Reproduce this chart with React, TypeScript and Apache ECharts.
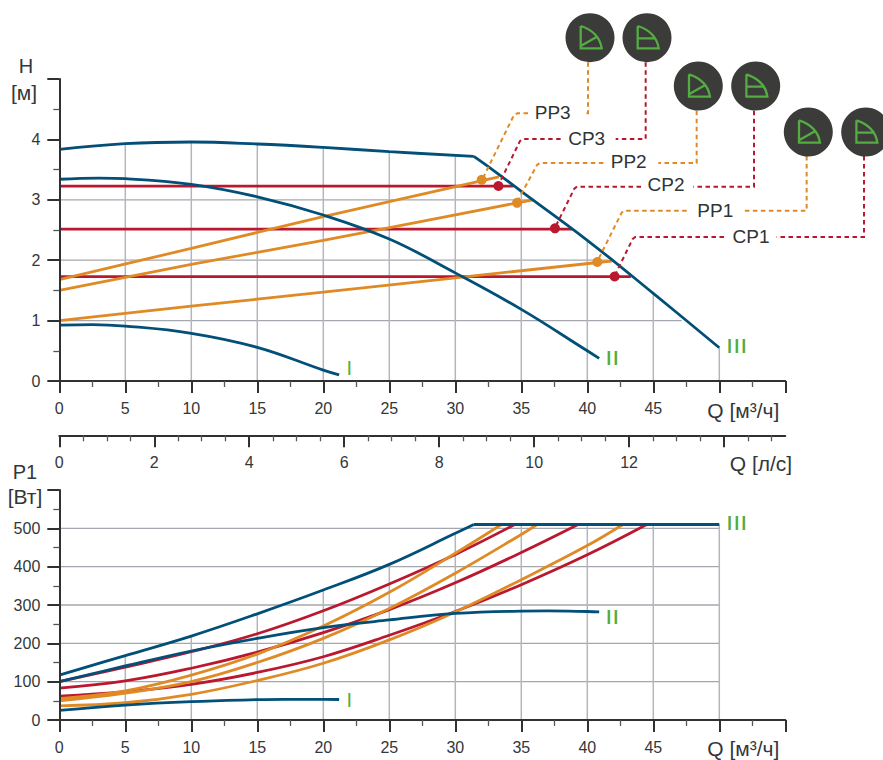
import React, { useEffect, useRef } from "react";
import * as echarts from "echarts";

const FONT = '"Liberation Sans", Arial, sans-serif';
const BLUE = "#024f78";
const RED = "#b9182f";
const ORANGE = "#e08a26";
const GREEN = "#53ad40";
const INK = "#33373a";

// Q tick labels
const qTicks = [0, 5, 10, 15, 20, 25, 30, 35, 40, 45];
const lsMajor = [0, 2, 4, 6, 8, 10, 12, 14];
const lsMinor = [0.5, 1, 1.5, 2.5, 3, 3.5, 4.5, 5, 5.5, 6.5, 7, 7.5, 8.5, 9, 9.5, 10.5, 11, 11.5, 12.5, 13, 13.5, 14.5, 15];
const lsLabels = [0, 2, 4, 6, 8, 10, 12];

// H(Q) curves
const hI = [[0, 0.925], [2.5, 0.935], [5, 0.91], [10, 0.79], [15, 0.557], [20, 0.18], [21.2, 0.1]];
const hII = [[0, 3.34], [3, 3.36], [5, 3.35], [10, 3.256], [15, 3.05], [20, 2.748], [25, 2.35], [30, 1.79], [35, 1.186], [40, 0.5], [40.9, 0.375]];
const hIIIa = [[0, 3.835], [5, 3.93], [10, 3.957], [15, 3.924], [20, 3.868], [25, 3.797], [31.4, 3.72]];
const hIIIb = [[31.4, 3.72], [32.5, 3.55], [35, 3.14], [40, 2.33], [45, 1.45], [50, 0.55]];
const hCP3 = [[0, 3.228], [34.4, 3.228]];
const hCP2 = [[0, 2.516], [38.9, 2.516]];
const hCP1 = [[0, 1.727], [43.3, 1.727]];
const hPP3 = [[0, 1.678], [10, 2.196], [20, 2.72], [33.3, 3.38]];
const hPP2 = [[0, 1.5], [10, 1.93], [20, 2.33], [35.9, 3.0]];
const hPP1 = [[0, 1.0], [10, 1.24], [20, 1.47], [28.8, 1.68], [41.85, 1.987]];
const pointsPP = [[32, 3.33], [34.68, 2.95], [40.76, 1.97]];
const pointsCP = [[33.27, 3.228], [37.55, 2.528], [42.07, 1.73]];

// H grid: [level, where it stops]
const hGridH = [[1, 47.15], [2, 41.6], [3, 36]];
const hGridV = [[5, 3.93], [10, 3.95], [15, 3.92], [20, 3.87], [25, 3.8], [30, 3.73], [35, 3.14], [40, 2.33], [45, 1.45], [50, 0.55]];

// P1(Q) curves
const pI = [[0, 25], [5, 39], [10, 48], [15, 53], [17, 54], [20, 54], [21.2, 53.5]];
const pII = [[0, 100], [5, 141], [10, 180], [15, 213], [20, 241], [25, 261], [30, 278], [35, 284], [37, 284.5], [40, 283], [40.9, 282]];
const pIIIa = [[0, 117], [5, 168], [10, 219], [15, 277], [20, 339], [25, 406], [30, 487], [31.4, 510]];
const pIIIb = [[31.4, 510], [50, 510]];
const pCP3 = [[0, 100], [5, 138], [10, 178], [15, 225], [20, 285], [25, 355], [30, 432], [34.5, 510]];
const pCP2 = [[0, 83], [5, 102], [10, 135], [15, 177], [20, 228], [25, 288], [30, 358], [35, 437], [39.3, 510]];
const pCP1 = [[0, 62], [5, 74], [10, 93], [15, 124], [20, 165], [25, 221], [30, 283], [35, 353], [40, 431], [44.5, 510]];
const pPP3 = [[0, 56], [5, 76], [10, 117], [15, 172], [20, 245], [25, 333], [30, 435], [33.5, 510]];
const pPP2 = [[0, 50], [5, 70], [10, 100], [15, 150], [20, 213], [25, 291], [30, 383], [35, 484], [36.2, 510]];
const pPP1 = [[0, 37], [5, 45], [10, 67], [15, 103], [20, 148], [25, 209], [30, 282], [35, 366], [40, 455], [42.7, 510]];

const pGridH = [100, 200, 300, 400, 500];
const pGridV = [[5, 166], [10, 218], [15, 276], [20, 338], [25, 405], [30, 487], [35, 510], [40, 510], [45, 510], [50, 510]];

const leaderLabels = ["PP3", "CP3", "PP2", "CP2", "PP1", "CP1"];

const AXIS = { lineStyle: { color: "#2f3133", width: 2 } };
const axisLabel = { color: INK, fontFamily: FONT, fontSize: 16 };
const lineS = (name: string, data: number[][], color: string, width: number, idx: number, z: number, smooth: number | boolean) => ({
  name, type: "line", data, xAxisIndex: idx, yAxisIndex: idx, showSymbol: false, symbol: "none", smooth,
  lineStyle: { color, width }, z, silent: true, animation: false,
});

const PP_D = "M-9.3 -11.7 L-9.3 10.7 L11.7 10.7 C 10 -1 2 -8 -9.3 -11.7 M-9.3 8.3 L7 -1";
const CP_D = "M-9.3 -11.7 L-9.3 10.7 L11.7 10.7 C 10 -1 2 -8 -9.3 -11.7 M-9.3 0.7 L8.7 0.7";
echarts.graphic.registerShape("ppIcon", echarts.graphic.extendPath(PP_D, {}));
echarts.graphic.registerShape("cpIcon", echarts.graphic.extendPath(CP_D, {}));

export default function App() {
  const ref = useRef<HTMLDivElement>(null);
  useEffect(() => {
    const chart = echarts.init(ref.current!, undefined, { renderer: "svg" });

    const gridColorV = "#b3b6bd";
    const gridColorH = "#a4a7ad";
    const series: any[] = [];
    hGridH.forEach(([v, e]) => series.push(lineS("g", [[0, v], [e, v]], gridColorH, 1.3, 0, 1, false)));
    hGridV.forEach(([q, v]) => series.push(lineS("g", [[q, 0], [q, v]], gridColorV, 1.5, 0, 1, false)));
    pGridH.forEach((v) => series.push(lineS("g", [[0, v], [50, v]], gridColorH, 1.3, 2, 1, false)));
    pGridV.forEach(([q, v]) => series.push(lineS("g", [[q, 0], [q, v]], gridColorV, 1.5, 2, 1, false)));

    const W = 2.8;
    [hCP3, hCP2, hCP1].forEach((d) => series.push(lineS("CP", d, RED, W, 0, 3, false)));
    [hPP3, hPP2, hPP1].forEach((d) => series.push(lineS("PP", d, ORANGE, W, 0, 3, 0.3)));
    [hI, hII, hIIIa, hIIIb].forEach((d) => series.push(lineS("curve", d, BLUE, W, 0, 4, 0.4)));
    [pCP3, pCP2, pCP1].forEach((d) => series.push(lineS("CP", d, RED, W, 2, 3, 0.4)));
    [pPP3, pPP2, pPP1].forEach((d) => series.push(lineS("PP", d, ORANGE, W, 2, 3, 0.4)));
    [pI, pII, pIIIa, pIIIb].forEach((d) => series.push(lineS("curve", d, BLUE, W, 2, 4, 0.4)));
    series.push({ type: "scatter", data: pointsPP, xAxisIndex: 0, yAxisIndex: 0, symbolSize: 10, itemStyle: { color: ORANGE, opacity: 1 }, z: 7, silent: true });
    series.push({ type: "scatter", data: pointsCP, xAxisIndex: 0, yAxisIndex: 0, symbolSize: 10, itemStyle: { color: RED, opacity: 1 }, z: 7, silent: true });

    const qAxis = (gridIndex: number) => ({
      type: "value", gridIndex, min: 0, max: 55, interval: 5, position: "bottom", z: 5,
      axisLine: { show: true, onZero: false, ...AXIS },
      axisTick: { show: true, length: 12, lineStyle: { color: "#2f3133", width: 2 } },
      minorTick: { show: true, splitNumber: 2, length: 6, lineStyle: { color: "#55585b", width: 1.3 } },
      splitLine: { show: false }, minorSplitLine: { show: false },
      axisLabel: { ...axisLabel, margin: 19, customValues: qTicks },
    });
    const valAxis = (gridIndex: number, max: number, interval: number) => ({
      type: "value", gridIndex, min: 0, max, interval, z: 5,
      axisLine: { show: true, onZero: false, ...AXIS },
      axisTick: { show: true, length: 12, lineStyle: { color: "#2f3133", width: 2 } },
      minorTick: { show: true, splitNumber: 2, length: 6, lineStyle: { color: "#55585b", width: 1.3 } },
      splitLine: { show: false }, minorSplitLine: { show: false },
      axisLabel: { ...axisLabel, margin: 19, customValues: Array.from({ length: max / interval }, (_, i) => i * interval) },
    });

    const P = (zx: number, zy: number) => [440 + zx / 3, zy / 3];
    const leader = (color: string, pts: number[][], key: string) => ({
      type: "polyline", z: 6, silent: true, name: key,
      shape: { points: pts.map(([a, b]) => P(a, b)) },
      style: { stroke: color, lineWidth: 2, fill: "none", lineDash: [4.5, 3.5] },
    });
    const leaders = [
      leader(ORANGE, [[444, 187], [444, 340], [432, 340]], "a"), leader(ORANGE, [[264, 340], [232, 340], [222, 345], [127, 538]], "b"),
      leader(RED, [[617, 187], [617, 417], [527, 417]], "c"), leader(RED, [[362, 417], [248, 417], [240, 423], [175, 556]], "d"),
      leader(ORANGE, [[770, 332], [770, 489], [655, 489]], "e"), leader(ORANGE, [[490, 489], [300, 489], [291, 495], [231, 606]], "f"),
      leader(RED, [[942, 332], [942, 560], [760, 560]], "g"), leader(RED, [[603, 560], [411, 560], [403, 566], [345, 683]], "h"),
      leader(ORANGE, [[1100, 468], [1100, 632], [905, 632]], "i"), leader(ORANGE, [[740, 632], [553, 632], [545, 638], [472, 784]], "j"),
      leader(RED, [[1272, 468], [1272, 711], [1010, 711]], "k"), leader(RED, [[852, 711], [586, 711], [578, 717], [524, 827]], "l"),
    ];
    const labelPos = [[552.7, 112], [586.7, 138], [628.7, 161], [666, 184.5], [715.3, 210.5], [751, 236]];
    const txt = (text: string, x: number, y: number, size: number, fill = INK, scaleX = 1) => ({
      type: "text", x, y, scaleX, z: 8, silent: true,
      style: { text, fill, font: `${size}px ${FONT}`, textAlign: "center", textVerticalAlign: "middle" },
    });
    const icons = [[590, 37.7, 0], [647, 37.7, 1], [698.3, 86, 0], [755.7, 86, 1], [808.3, 132, 0], [865.7, 132, 1]].flatMap(([x, y, k]) => [
      { type: "circle", z: 8, silent: true, shape: { cx: x, cy: y, r: 24.5 }, style: { fill: "#3b3b39" } },
      { type: k ? "cpIcon" : "ppIcon", z: 9, silent: true, x, y, style: { fill: "none", stroke: GREEN, lineWidth: 2.3 } },
    ]);

    chart.setOption({
      animation: false,
      grid: [
        { left: 59.3, top: 79, width: 726, height: 302, containLabel: false },
        { left: 59.3, top: 425.3, width: 726, height: 10, containLabel: false },
        { left: 59.3, top: 490, width: 726, height: 230, containLabel: false },
      ],
      xAxis: [
        qAxis(0),
        {
          type: "value", gridIndex: 1, min: 0, max: 15.29, position: "bottom", z: 5,
          axisLine: { show: true, onZero: false, ...AXIS },
          axisTick: { show: true, length: 12, customValues: lsMajor, lineStyle: { color: "#2f3133", width: 2 } },
          splitLine: { show: false },
          axisLabel: { ...axisLabel, margin: 19, customValues: lsLabels },
        },
        qAxis(2),
        {
          type: "value", gridIndex: 1, min: 0, max: 15.29, position: "bottom", z: 5,
          axisLine: { show: false },
          axisTick: { show: true, length: 6, customValues: lsMinor, lineStyle: { color: "#55585b", width: 1.3 } },
          splitLine: { show: false },
          axisLabel: { show: false },
        },
      ],
      yAxis: [
        valAxis(0, 5, 1),
        { type: "value", gridIndex: 1, min: 0, max: 1, show: false },
        valAxis(2, 600, 100),
      ],
      series,
      graphic: {
        elements: [
          ...leaders,
          ...icons,
          ...leaderLabels.map((t, i) => txt(t, labelPos[i][0], labelPos[i][1], 19, "#2e3535")),
          txt("H", 26, 66, 20),
          txt("[м]", 24, 92, 21),
          txt("P1", 25, 472, 20),
          txt("[Вт]", 25, 496, 21),
          txt("Q [м³/ч]", 743.3, 410.5, 21),
          txt("Q [м³/ч]", 743.3, 748.5, 21),
          txt("Q [л/с]", 761, 463, 21),
          txt("I", 349.3, 367.5, 20, GREEN),
          txt("II", 612.3, 358.5, 20, GREEN, 1.28),
          txt("III", 736.7, 346.5, 20, GREEN, 1.28),
          txt("I", 349.3, 699.5, 20, GREEN),
          txt("II", 612.3, 617.5, 20, GREEN, 1.28),
          txt("III", 736.7, 523.5, 20, GREEN, 1.28),
        ],
      },
    });
    return () => chart.dispose();
  }, []);
  return <div ref={ref} style={{ position: "absolute", left: 0, top: 0, width: 883, height: 760 }} />;
}
